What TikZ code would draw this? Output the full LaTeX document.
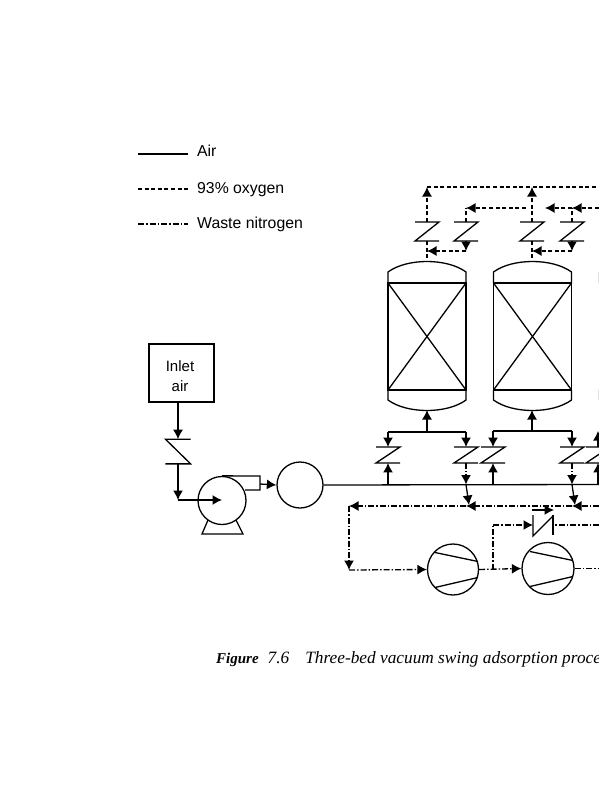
\documentclass[tikz,border=0pt]{standalone}
\usepackage{fontspec}
\setmainfont{Liberation Serif}
\newfontfamily\labelfont{Liberation Sans}
\usepackage{tikz}
\usetikzlibrary{arrows.meta}
\tikzset{
  air/.style={line width=1.3pt},
  oxygen/.style={line width=1.3pt, dash pattern=on 4pt off 2.6pt},
  waste/.style={line width=1.3pt, dash pattern=on 6pt off 2pt on 1.5pt off 2pt},
  flow/.style={-{Latex[length=9.5pt,width=10pt]}},
  legendtext/.style={anchor=base west, inner sep=0pt, font=\labelfont\fontsize{15.8}{18}\selectfont},
  zvalve/.pic={
    \draw[air] (-12,-9.5) -- (12,-9.5) -- (-12,9.5) -- (12,9.5);
    \coordinate (-top) at (0,-9.5);
    \coordinate (-bot) at (0,9.5);
  },
  bed/.pic={
    \draw[air] (-39,-53) -- (-39,-64) .. controls (-20,-78) and (20,-78) .. (39,-64) -- (39,-53);
    \draw[air] (-39,54) -- (-39,64) .. controls (-20,78) and (20,78) .. (39,64) -- (39,54);
    \draw[air] (-39,-53) rectangle (39,54);
    \draw[air] (-39,-53) -- (39,54);
    \draw[air] (-39,54) -- (39,-53);
  },
  blades/.pic={
    \draw[air] (-18,-17) -- (25,-8);
    \draw[air] (-18,18) -- (25,8);
  },
}
\begin{document}
\begin{tikzpicture}[x=1pt, y=-1pt]
  \useasboundingbox (0,0) rectangle (599,800);
  \clip (0,0) rectangle (599,800);
  % legend
  \coordinate (la1) at (138,154);
  \coordinate (la2) at (188,154);
  \coordinate (lo1) at (138,189);
  \coordinate (lo2) at (188,189);
  \coordinate (lw1) at (138,224);
  \coordinate (lw2) at (188,224);
  \draw[air] (la1) -- (la2);
  \draw[oxygen] (lo1) -- (lo2);
  \draw[waste] (lw1) -- (lw2);
  \node[legendtext] (lair) at (197,156) {Air};
  \node[legendtext] (loxy) at (197,193) {93\% oxygen};
  \node[legendtext] (lwaste) at (197,228) {Waste nitrogen};

  % beds
  \pic (bed1) at (427,336) {bed};
  \pic (bed2) at (532.5,336) {bed};
  \pic (bed3) at (638.5,336) {bed};
  \coordinate (b1t) at (427,261);
  \coordinate (b1b) at (427,410);
  \coordinate (b2t) at (532,261);
  \coordinate (b2b) at (532,410);

  % oxygen side
  \pic (ov1) at (427,231.5) {zvalve};
  \pic (ov2) at (466,231.5) {zvalve};
  \pic (ov3) at (532,231.5) {zvalve};
  \pic (ov4) at (572,231.5) {zvalve};
  \coordinate (ot1) at (427,187);
  \coordinate (ot2) at (532,187);
  \coordinate (otr) at (599,187);
  \coordinate (or1) at (466,208);
  \coordinate (or2) at (526,208);
  \coordinate (or3) at (545,208);
  \coordinate (or4) at (572,208);
  \coordinate (orr) at (599,208);
  \coordinate (ob1) at (427,251);
  \coordinate (ob2) at (466,251);
  \coordinate (ob3) at (532,251);
  \coordinate (ob4) at (572,251);
  \draw[oxygen, flow] (ov1-top) -- (ot1);
  \draw[oxygen, flow] (ov3-top) -- (ot2);
  \draw[oxygen] (ot1) -- (otr);
  \draw[oxygen] (ov2-top) -- (or1);
  \draw[oxygen, flow] (or2) -- (or1);
  \draw[oxygen, flow] (or4) -- (or3);
  \draw[oxygen, flow] (orr) -- (or4);
  \draw[oxygen] (ov4-top) -- (or4);
  \draw[oxygen] (ov1-bot) -- (b1t);
  \draw[oxygen] (ov3-bot) -- (b2t);
  \draw[oxygen, flow] (ov2-bot) -- (ob2);
  \draw[oxygen, flow] (ob2) -- (ob1);
  \draw[oxygen, flow] (ov4-bot) -- (ob4);
  \draw[oxygen, flow] (ob4) -- (ob3);

  % air side
  \node[draw, air, minimum width=65pt, minimum height=58pt, inner sep=0pt] (inlet) at (181.5,373) {};
  \node[align=center, inner sep=0pt, font=\labelfont\fontsize{15}{19.5}\selectfont] (inlettext) at (180,376) {Inlet\\air};
  \pic[xscale=-1.05, yscale=1.3] (iv) at (178,451.5) {zvalve};
  \coordinate (i0) at (178,402);
  \coordinate (i1) at (178,500);
  \node[circle, draw, air, minimum size=48pt, inner sep=0pt] (blower) at (222,500.5) {};
  \node[circle, draw, air, minimum size=46pt, inner sep=0pt] (tank) at (300,485) {};
  \coordinate (bc) at (222,500);
  \coordinate (bt) at (260,476);
  \coordinate (bb) at (260,490);
  \coordinate (bo) at (260,484);
  \coordinate (m1) at (599,484.5);
  \draw[air, flow] (i0) -- (iv-top);
  \draw[air, flow] (iv-bot) -- (i1);
  \draw[air, flow] (i1) -- (bc);
  \draw[air] (blower.north) -- (bt) -- (bb) -- (245,490);
  \draw[air] (208,520) -- (202,534) -- (243,534) -- (236,520);
  \draw[air, flow] (bo) -- (tank.west);
  \draw[air] (tank.east) -- (m1);

  % feed valves
  \pic[yscale=.84] (fv1) at (388,455) {zvalve};
  \pic[yscale=.84] (fv2) at (466,455) {zvalve};
  \pic[yscale=.84] (fv3) at (493,455) {zvalve};
  \pic[yscale=.84] (fv4) at (572,455) {zvalve};
  \pic[yscale=.84] (fv5) at (598,455) {zvalve};
  \coordinate (h1) at (388,432);
  \coordinate (h2) at (466,432);
  \coordinate (h3) at (493,431);
  \coordinate (h4) at (572,431);
  \coordinate (h5) at (598,431);
  \coordinate (hb1) at (427,432);
  \coordinate (hb2) at (532,431);
  \coordinate (mf1) at (388,484.5);
  \coordinate (mf2) at (466,484.5);
  \coordinate (mf3) at (493,484.5);
  \coordinate (mf4) at (572,484.5);
  \coordinate (mf5) at (598,484.5);
  \coordinate (dw1) at (469,505);
  \coordinate (dw2) at (575,505);
  \draw[air, flow] (hb1) -- (b1b);
  \draw[air, flow] (hb2) -- (b2b);
  \draw[air] (h1) -- (h2);
  \draw[air] (h3) -- (h4);
  \draw[air, flow] (h1) -- (fv1-top);
  \draw[air, flow] (h2) -- (fv2-top);
  \draw[air, flow] (h3) -- (fv3-top);
  \draw[air, flow] (h4) -- (fv4-top);
  \draw[air, flow] (fv5-top) -- (h5);
  \draw[air, flow] (mf1) -- (fv1-bot);
  \draw[air, flow] (mf3) -- (fv3-bot);
  \draw[air, flow] (mf5) -- (fv5-bot);
  \draw[waste, flow] (fv2-bot) -- (mf2);
  \draw[waste, flow] (fv4-bot) -- (mf4);
  \draw[air, flow] (mf2) -- (dw1);
  \draw[air, flow] (mf4) -- (dw2);

  % vacuum train
  \node[circle, draw, air, minimum size=51pt, inner sep=0pt] (vp1) at (453,569.5) {};
  \node[circle, draw, air, minimum size=52pt, inner sep=0pt] (vp2) at (548,568.5) {};
  \pic at (453,569.5) {blades};
  \pic at (548,568.5) {blades};
  \coordinate (w0) at (599,506);
  \coordinate (w1) at (572,506);
  \coordinate (w2) at (466,506);
  \coordinate (w3) at (349,506);
  \coordinate (w4) at (349,570);
  \coordinate (j1) at (493,569.5);
  \coordinate (j2) at (493,525);
  \coordinate (cv1) at (533,525);
  \coordinate (cv2) at (553,525);
  \coordinate (cvr) at (599,525);
  \coordinate (vr) at (599,568.5);
  \coordinate (ca1) at (532,510);
  \coordinate (ca2) at (554,510);
  \draw[waste, flow] (w0) -- (w1);
  \draw[waste, flow] (w1) -- (w2);
  \draw[waste, flow] (w2) -- (w3);
  \draw[waste, flow] (w3) -- (w4);
  \draw[waste, flow] (w4) -- (vp1.west);
  \draw[waste, flow] (vp1.east) -- (vp2.west);
  \draw[waste, flow] (j2) -- (cv1);
  \draw[waste] (j1) -- (j2);
  \draw[waste] (cvr) -- (cv2);
  \draw[waste] (vp2.east) -- (vr);
  \draw[air] (533,515) -- (533,536) -- (553,516);
  \draw[air] (553,515) -- (553,535);
  \draw[air, flow] (ca1) -- (ca2);

  % caption
  \node[anchor=base west, inner sep=0pt, font=\fontsize{17.3}{19}\selectfont\itshape] (caption) at (216,663)
    {{\fontsize{15}{17}\selectfont\textbf{Figure}}\hspace{9pt}7.6\hspace{16pt}Three-bed vacuum swing adsorption proce};
\end{tikzpicture}
\end{document}
